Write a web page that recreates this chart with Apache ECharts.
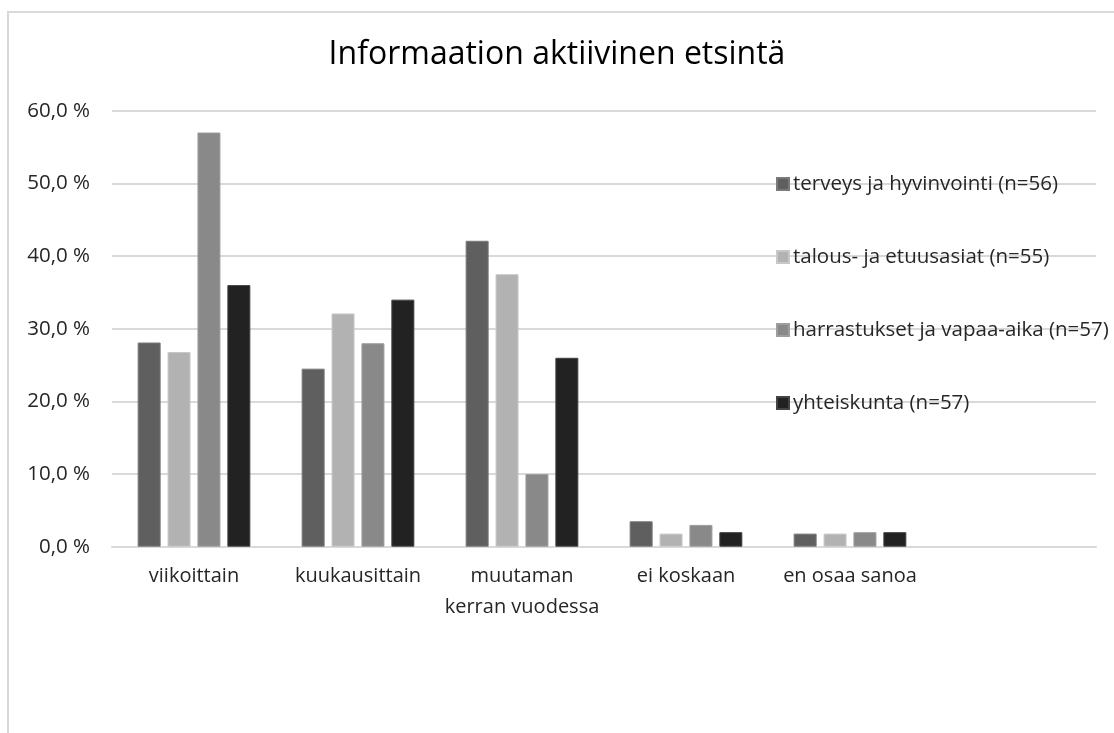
<!DOCTYPE html>
<html>
<head>
<meta charset="utf-8">
<script src="https://cdn.jsdelivr.net/npm/echarts@6/dist/echarts.min.js"></script>
<style>
  html, body { margin: 0; padding: 0; background: #fff; }
  #frame { position: absolute; left: 7px; top: 11px; width: 1200px; height: 800px;
           border-left: 2px solid #d9d9d9; border-top: 2px solid #d9d9d9; }
  #chart { position: absolute; left: 0; top: 0; width: 1114px; height: 733px; }
</style>
</head>
<body>
<div id="frame"></div>
<div id="chart"></div>
<script>
// luokat (viimeinen tyhjä, kuten alkuperäisessä)
var categories = ['viikoittain', 'kuukausittain', 'muutaman\nkerran vuodessa', 'ei koskaan', 'en osaa sanoa', ''];
var seriesNames = ['terveys ja hyvinvointi (n=56)', 'talous- ja etuusasiat (n=55)', 'harrastukset ja vapaa-aika (n=57)', 'yhteiskunta (n=57)'];
var terveys = [28.1, 24.5, 42.1, 3.5, 1.8, null];
var talous = [26.8, 32.1, 37.5, 1.8, 1.8, null];
var harrastukset = [57.0, 28.0, 10.0, 3.0, 2.0, null];
var yhteiskunta = [36.0, 34.0, 26.0, 2.0, 2.0, null];
var yTicks = [0, 10, 20, 30, 40, 50, 60];

var colors = ['#5f5f5f', '#b2b2b2', '#898989', '#222222'];
var borders = ['#7a7a7a', '#c8c8c8', '#9e9e9e', '#444444'];
var allData = [terveys, talous, harrastukset, yhteiskunta];

var font = 'Open Sans';
var textColor = '#262626';
var myChart = echarts.init(document.getElementById('chart'), null, { renderer: 'canvas' });

var series = [];
for (var i = 0; i < 4; i++) {
    series.push({
        name: seriesNames[i],
        type: 'bar',
        data: allData[i],
        barWidth: 23,
        barGap: '30%',
        itemStyle: { color: colors[i], borderColor: borders[i], borderWidth: 1 }
    });
}

var option = {
    animation: false,
    color: colors,
    title: {
        text: 'Informaation aktiivinen etsintä',
        left: 'center',
        top: 34,
        textStyle: { fontFamily: font, fontSize: 32, fontWeight: 'normal', color: '#000' }
    },
    legend: {
        orient: 'vertical',
        left: 776,
        top: 172,
        padding: 0,
        itemWidth: 12,
        itemHeight: 12,
        itemGap: 49,
        icon: 'rect',
        textStyle: { fontFamily: font, fontSize: 20.5, color: textColor, padding: [0, 0, 0, -1], lineHeight: 24 },
        data: seriesNames
    },
    grid: { left: 112, right: 18, top: 110.7, bottom: 186.3, containLabel: false },
    xAxis: {
        type: 'category',
        data: categories,
        axisLine: { lineStyle: { color: '#d9d9d9', width: 2 } },
        axisTick: { show: false },
        axisLabel: { fontFamily: font, fontSize: 20, color: textColor, margin: 14, lineHeight: 31, interval: 0 }
    },
    yAxis: {
        type: 'value',
        min: yTicks[0],
        max: yTicks[yTicks.length - 1],
        interval: 10,
        axisLine: { show: false },
        axisTick: { show: false },
        splitLine: { lineStyle: { color: '#d9d9d9', width: 2 } },
        axisLabel: {
            fontFamily: font, fontSize: 20.5, color: textColor, margin: 22,
            formatter: function (v) { return v.toFixed(1).replace('.', ',') + ' %'; }
        }
    },
    series: series
};
myChart.setOption(option);
</script>
</body>
</html>
